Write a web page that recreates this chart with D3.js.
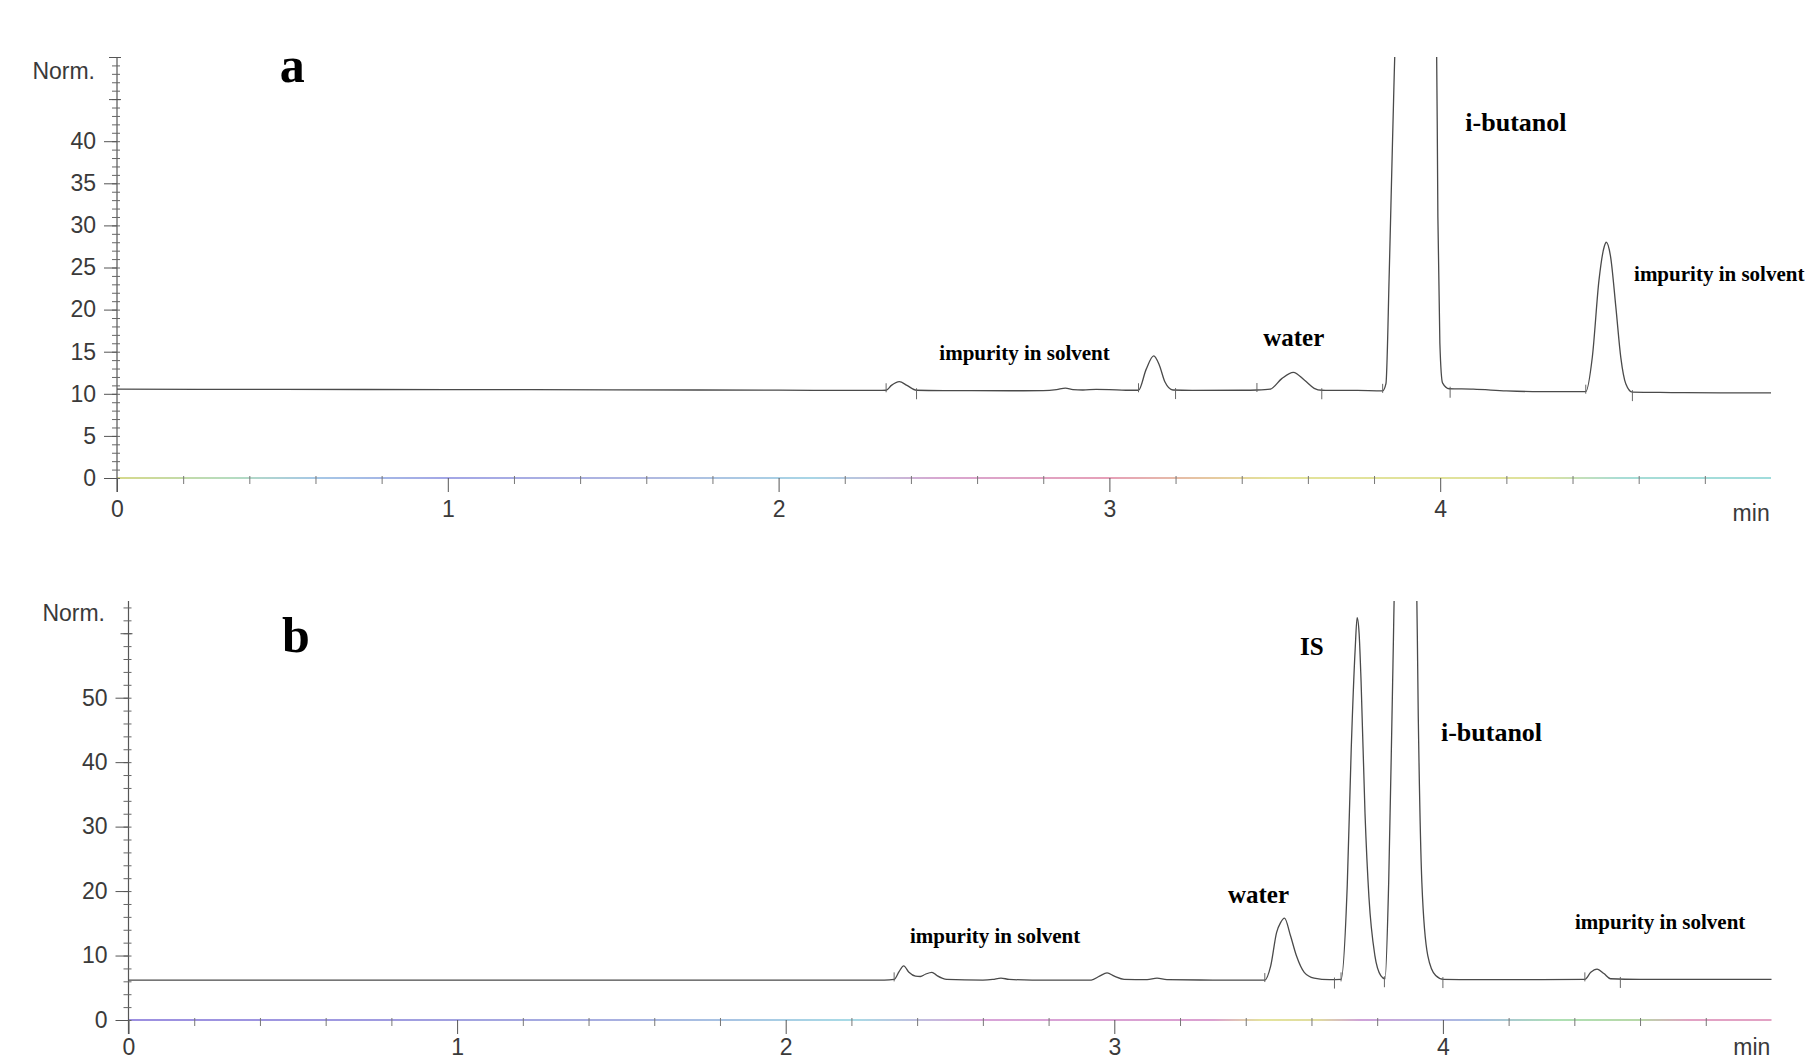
<!DOCTYPE html>
<html>
<head>
<meta charset="utf-8">
<script src="https://cdn.jsdelivr.net/npm/d3@7"></script>
<style>
  body { margin: 0; background: #fff; }
  .tick text { font-family: "Liberation Sans", Arial, sans-serif; fill: #3a3a3a; }
  .axis-label { font-family: "Liberation Sans", Arial, sans-serif; fill: #3a3a3a; font-size: 23px; }
  .note { font-family: "Liberation Serif", "Times New Roman", serif; font-weight: bold; fill: #000; }
</style>
</head>
<body>
<svg id="chart" width="1816" height="1061"></svg>
<script>
// chromatogram a: retention time (min) and detector signal (Norm.)
const timeA = [0, 0.5, 1.0, 1.5, 2.0, 2.3, 2.325, 2.341, 2.365, 2.388, 2.417, 2.5, 2.7, 2.8, 2.84, 2.867, 2.89, 2.92,
  2.96, 3.0, 3.05, 3.088, 3.111, 3.134, 3.151, 3.168, 3.192, 3.25, 3.4, 3.446, 3.486, 3.521, 3.556, 3.59, 3.619,
  3.642, 3.75, 3.826, 3.836, 3.846, 3.856, 3.868, 3.93, 3.988, 3.993, 3.999, 4.007, 4.027, 4.1, 4.2, 4.3, 4.44,
  4.46, 4.48, 4.496, 4.502, 4.515, 4.531, 4.546, 4.561, 4.581, 4.7, 4.85, 5.0];
const normA = [10.55, 10.52, 10.5, 10.47, 10.43, 10.4, 10.42, 11.0, 11.45, 11.0, 10.42, 10.38, 10.36, 10.38, 10.5, 10.68, 10.5, 10.45,
  10.52, 10.5, 10.42, 10.42, 12.9, 14.5, 13.4, 11.4, 10.45, 10.4, 10.42, 10.45, 10.55, 11.8, 12.55, 11.6, 10.65,
  10.42, 10.4, 10.35, 11.2, 24.4, 40.2, 56, 75, 56, 31, 16, 11.3, 10.6, 10.55, 10.35, 10.25, 10.25,
  14.4, 23.5, 27.5, 28.0, 26.3, 20.3, 14.3, 11.2, 10.2, 10.15, 10.1, 10.1];

// chromatogram b
const timeB = [0, 1.0, 2.0, 2.3, 2.33, 2.345, 2.359, 2.375, 2.395, 2.41, 2.425, 2.445, 2.46, 2.49, 2.6, 2.63, 2.655, 2.68,
  2.75, 2.93, 2.955, 2.978, 3.0, 3.03, 3.1, 3.13, 3.16, 3.3, 3.458, 3.476, 3.494, 3.506, 3.518, 3.536, 3.554, 3.578,
  3.608, 3.655, 3.69, 3.709, 3.721, 3.733, 3.739, 3.745, 3.751, 3.763, 3.775, 3.793, 3.811, 3.824, 3.835, 3.847,
  3.856, 3.887, 3.918, 3.925, 3.936, 3.954, 3.978, 4.002, 4.1, 4.3, 4.432, 4.45, 4.469, 4.49, 4.51, 4.6, 5.0];
const normB = [6.2, 6.2, 6.2, 6.2, 6.3, 7.5, 8.4, 7.4, 6.8, 6.75, 7.1, 7.4, 6.9, 6.3, 6.2, 6.3, 6.5, 6.3,
  6.2, 6.2, 6.8, 7.3, 6.8, 6.3, 6.25, 6.5, 6.25, 6.2, 6.2, 8.4, 13.6, 15.1, 15.8, 13.1, 10.0, 7.4,
  6.5, 6.25, 6.3, 21, 42, 57.5, 62.4, 60, 52.5, 32, 19, 10, 6.9, 6.4, 21.3, 52.3,
  75, 95, 75, 47.2, 21.3, 10, 6.9, 6.3, 6.25, 6.25, 6.3, 7.4, 7.9, 7.2, 6.4, 6.3, 6.3];

// integration marks (peak start / peak end, min)
const startsA = [2.325, 3.088, 3.446, 3.826, 4.44];
const endsA = [2.417, 3.2, 3.642, 4.03, 4.581];
const startsB = [2.33, 3.458, 3.69, 4.432];
const endsB = [3.67, 3.822, 4.0, 4.54];

// tick labels
const xTicks = [0, 1, 2, 3, 4];
const yTicksA = [0, 5, 10, 15, 20, 25, 30, 35, 40];
const yTicksB = [0, 10, 20, 30, 40, 50];

// peak names
const namesA = [`impurity in solvent`, `water`, `i-butanol`, `impurity in solvent`];
const namesB = [`impurity in solvent`, `water`, `IS`, `i-butanol`, `impurity in solvent`];

const svg = d3.select(`#chart`);
const defs = svg.append(`defs`);

function drawPanel(p) {
  const x = d3.scaleLinear().domain([0, 5]).range([p.left, p.right]);
  const y = d3.scaleLinear().domain([0, p.yMax]).range([p.bottom, p.top]);
  const g = svg.append(`g`);

  // coloured zero line
  const grad = defs.append(`linearGradient`)
    .attr(`id`, `zero-` + p.id)
    .attr(`gradientUnits`, `userSpaceOnUse`)
    .attr(`x1`, x(0)).attr(`x2`, x(5)).attr(`y1`, 0).attr(`y2`, 0);
  p.zeroColors.forEach(function(s) {
    grad.append(`stop`).attr(`offset`, s[0] / 5).attr(`stop-color`, s[1]);
  });
  g.append(`line`)
    .attr(`x1`, x(0)).attr(`x2`, x(5))
    .attr(`y1`, y(0)).attr(`y2`, y(0))
    .attr(`stroke`, `url(#zero-${p.id})`)
    .attr(`stroke-width`, 2.2);

  // x axis: minor and major ticks
  const minorX = d3.range(1, 25).map(function(i) { return i / 5; })
    .filter(function(v) { return Math.abs(v - Math.round(v)) > 1e-6; });
  g.append(`g`)
    .attr(`transform`, `translate(0,${y(0)})`)
    .call(d3.axisBottom(x).tickValues(minorX).tickSize(6).tickFormat(``))
    .call(function(s) { s.select(`.domain`).remove(); })
    .selectAll(`line`).attr(`y1`, -2).attr(`stroke`, `#777`);

  const xAxis = g.append(`g`)
    .attr(`transform`, `translate(0,${y(0)})`)
    .call(d3.axisBottom(x).tickValues(xTicks).tickSize(14).tickPadding(p.xPad).tickFormat(d3.format(`d`)));
  xAxis.select(`.domain`).remove();
  xAxis.selectAll(`line`).attr(`stroke`, `#555`);
  xAxis.selectAll(`text`).attr(`font-size`, 23);

  g.append(`text`).attr(`class`, `axis-label`)
    .attr(`x`, x(4.94)).attr(`y`, y(0) + p.minOffset)
    .attr(`text-anchor`, `middle`)
    .text(`min`);

  // y axis
  g.append(`line`)
    .attr(`x1`, x(0)).attr(`x2`, x(0))
    .attr(`y1`, y(p.yMax)).attr(`y2`, y(0) + 14)
    .attr(`stroke`, `#555`).attr(`stroke-width`, 1.2);

  g.append(`g`)
    .attr(`transform`, `translate(${x(0)},0)`)
    .call(d3.axisLeft(y).tickValues(d3.range(0, p.yMax + 0.01, p.minorStep)).tickSize(5).tickFormat(``))
    .call(function(s) { s.select(`.domain`).remove(); })
    .selectAll(`line`).attr(`x1`, 3).attr(`stroke`, `#666`);

  g.append(`g`)
    .attr(`transform`, `translate(${x(0)},0)`)
    .call(d3.axisLeft(y).tickValues(p.midTicks).tickSize(8).tickFormat(``))
    .call(function(s) { s.select(`.domain`).remove(); })
    .selectAll(`line`).attr(`x1`, 4).attr(`stroke`, `#555`);

  const yAxis = g.append(`g`)
    .attr(`transform`, `translate(${x(0)},0)`)
    .call(d3.axisLeft(y).tickValues(p.yTicks).tickSize(13).tickPadding(8).tickFormat(d3.format(`d`)));
  yAxis.select(`.domain`).remove();
  yAxis.selectAll(`line`).attr(`stroke`, `#555`);
  yAxis.selectAll(`text`).attr(`font-size`, 23);

  g.append(`text`).attr(`class`, `axis-label`)
    .attr(`x`, p.normX).attr(`y`, y(p.normAt))
    .attr(`dy`, `0.35em`)
    .attr(`text-anchor`, `end`)
    .text(`Norm.`);

  // signal trace, clipped to the plot
  defs.append(`clipPath`).attr(`id`, `clip-` + p.id)
    .append(`rect`)
    .attr(`x`, x(0)).attr(`y`, y(p.yMax))
    .attr(`width`, x(5) - x(0) + 2).attr(`height`, y(0) - y(p.yMax));

  const points = d3.zip(p.time, p.norm);
  const line = d3.line()
    .x(function(d) { return x(d[0]); })
    .y(function(d) { return y(d[1]); })
    .curve(d3.curveMonotoneX);

  g.append(`path`)
    .datum(points)
    .attr(`clip-path`, `url(#clip-${p.id})`)
    .attr(`fill`, `none`)
    .attr(`stroke`, `#4a4a4a`)
    .attr(`stroke-width`, 1.3)
    .attr(`d`, line);

  // baseline value at a given time (for placing the integration marks)
  const at = function(t) {
    const i = d3.bisectLeft(p.time, t);
    if (i <= 0) return p.norm[0];
    const t0 = p.time[i - 1], t1 = p.time[i];
    return p.norm[i - 1] + (p.norm[i] - p.norm[i - 1]) * (t - t0) / (t1 - t0);
  };
  g.selectAll(`.mark-start`).data(p.starts).enter().append(`line`)
    .attr(`x1`, function(d) { return x(d); }).attr(`x2`, function(d) { return x(d); })
    .attr(`y1`, function(d) { return y(at(d)) + 2; })
    .attr(`y2`, function(d) { return y(at(d)) - 7; })
    .attr(`stroke`, `#666`).attr(`stroke-width`, 1);
  g.selectAll(`.mark-end`).data(p.ends).enter().append(`line`)
    .attr(`x1`, function(d) { return x(d); }).attr(`x2`, function(d) { return x(d); })
    .attr(`y1`, function(d) { return y(at(d)) - 2; })
    .attr(`y2`, function(d) { return y(at(d)) + 9; })
    .attr(`stroke`, `#666`).attr(`stroke-width`, 1);

  // panel letter and peak names
  g.append(`text`).attr(`class`, `note`)
    .attr(`x`, x(p.letterAt[0])).attr(`y`, y(p.letterAt[1]))
    .attr(`font-size`, 50)
    .text(p.letter);

  g.selectAll(`.peak-note`).data(p.notes).enter().append(`text`)
    .attr(`class`, `note`)
    .attr(`x`, function(d) { return x(d.t); })
    .attr(`y`, function(d) { return y(d.v); })
    .attr(`font-size`, function(d) { return d.size; })
    .text(function(d) { return d.text; });
}

drawPanel({
  id: `a`, letter: `a`, letterAt: [0.492, 47.0],
  time: timeA, norm: normA, starts: startsA, ends: endsA,
  left: 117, right: 1771, bottom: 478, top: 57, yMax: 50,
  yTicks: yTicksA, midTicks: [45, 50], minorStep: 1,
  normX: 95, normAt: 48.3, xPad: 9, minOffset: 43,
  notes: [
    {text: namesA[0], t: 2.486, v: 14.0, size: 21},
    {text: namesA[1], t: 3.465, v: 15.7, size: 25},
    {text: namesA[2], t: 4.076, v: 41.2, size: 26},
    {text: namesA[3], t: 4.586, v: 23.4, size: 21}
  ],
  zeroColors: [[0, `#d6d98a`], [0.35, `#b5dcc0`], [0.6, `#a6c8e6`], [1.0, `#a3a6e6`], [1.6, `#b0b8e0`],
    [2.1, `#a8d6e6`], [2.5, `#d9a6d0`], [3.0, `#e6a0b8`], [3.3, `#e6c8a0`], [3.5, `#e3e39a`],
    [4.3, `#dfe29c`], [4.55, `#a8ddd6`], [5, `#a0dcdc`]]
});

drawPanel({
  id: `b`, letter: `b`, letterAt: [0.467, 57.1],
  time: timeB, norm: normB, starts: startsB, ends: endsB,
  left: 128.5, right: 1771.5, bottom: 1020, top: 601, yMax: 65,
  yTicks: yTicksB, midTicks: [60], minorStep: 2,
  normX: 105, normAt: 63.1, xPad: 5, minOffset: 35,
  notes: [
    {text: namesB[0], t: 2.378, v: 11.9, size: 21},
    {text: namesB[1], t: 3.346, v: 18.1, size: 25},
    {text: namesB[2], t: 3.565, v: 56.7, size: 25},
    {text: namesB[3], t: 3.994, v: 43.3, size: 26},
    {text: namesB[4], t: 4.402, v: 14.1, size: 21}
  ],
  zeroColors: [[0, `#9c8fe0`], [0.8, `#a09ce0`], [1.5, `#a8b0e0`], [2.2, `#a8dbe6`], [2.6, `#d8a4d8`],
    [3.3, `#dba0d0`], [3.45, `#e4e49c`], [3.62, `#e0dca0`], [3.75, `#cfa2d8`], [4.1, `#a6bce4`],
    [4.35, `#aee0b4`], [4.6, `#b8d8a8`], [4.75, `#e2a2c4`], [5, `#e2a2c4`]]
});
</script>
</body>
</html>
